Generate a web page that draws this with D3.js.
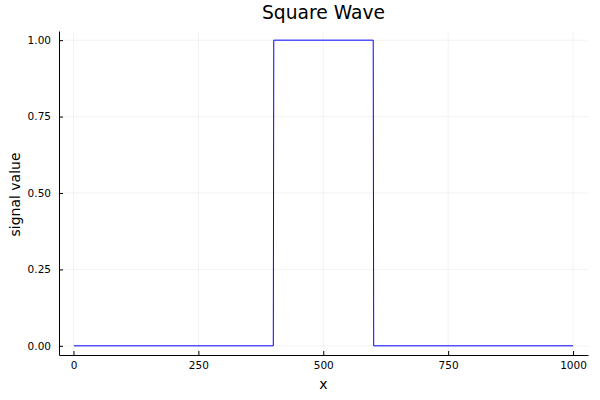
<!DOCTYPE html>
<html><head><meta charset="utf-8">
<script src="https://cdn.jsdelivr.net/npm/d3@7"></script>
<style>body{margin:0;background:#fff}svg{display:block;font-family:"DejaVu Sans",sans-serif}</style>
</head><body><svg id="c" width="600" height="400"></svg>
<script>
const xPoints = [1, 400, 401, 600, 601, 1000];
const yPoints = [0, 0, 1, 1, 0, 0];
const xTicks = [0, 250, 500, 750, 1000];
const yTicks = [0, 0.25, 0.5, 0.75, 1.0];
const titleText = "Square Wave";
const xLabel = "x";
const yLabel = "signal value";

const svg = d3.select("#c");
const L = 59, R = 588, T = 31, B = 355;
const x = d3.scaleLinear().domain([-28.97, 1029.97]).range([L, R]);
const y = d3.scaleLinear().domain([-0.03, 1.03]).range([B, T]);

// grid
svg.append("g").selectAll("line").data(xTicks).join("line")
  .attr("x1", d => x(d)).attr("x2", d => x(d)).attr("y1", T).attr("y2", B)
  .attr("stroke", "#000").attr("stroke-opacity", 0.1).attr("stroke-width", 0.5);
svg.append("g").selectAll("line").data(yTicks).join("line")
  .attr("y1", d => y(d)).attr("y2", d => y(d)).attr("x1", L).attr("x2", R)
  .attr("stroke", "#000").attr("stroke-opacity", 0.1).attr("stroke-width", 0.5);

// axes
const xa = svg.append("g").attr("transform", `translate(0,${B})`)
  .call(d3.axisBottom(x).tickValues(xTicks).tickFormat(d3.format("d")).tickSizeInner(-4).tickSizeOuter(0).tickPadding(7));
const ya = svg.append("g").attr("transform", `translate(${L},0)`)
  .call(d3.axisLeft(y).tickValues(yTicks).tickFormat(d3.format(".2f")).tickSizeInner(-4).tickSizeOuter(0).tickPadding(8));
[xa, ya].forEach(a => {
  a.select(".domain").attr("stroke", "#000").attr("stroke-width", 1);
  a.selectAll(".tick line").attr("stroke", "#000");
  a.selectAll("text").attr("font-family", "DejaVu Sans").attr("font-size", 10.5).attr("fill", "#000");
});
xa.selectAll("text").attr("dy", "0.71em");

// line
const pts = xPoints.map((v, i) => [v, yPoints[i]]);
svg.append("path").datum(pts)
  .attr("d", d3.line().x(d => x(d[0])).y(d => y(d[1])))
  .attr("fill", "none").attr("stroke", "#0000ff").attr("stroke-width", 1);

// texts
svg.append("text").attr("x", (L + R) / 2).attr("y", 19).attr("text-anchor", "middle")
  .attr("font-size", 18.7).text(titleText);
svg.append("text").attr("x", (L + R) / 2).attr("y", 389).attr("text-anchor", "middle")
  .attr("font-size", 14).text(xLabel);
svg.append("text").attr("transform", `translate(20,${(T + B) / 2 + 1.5}) rotate(-90)`).attr("text-anchor", "middle")
  .attr("font-size", 14).text(yLabel);
</script></body></html>
